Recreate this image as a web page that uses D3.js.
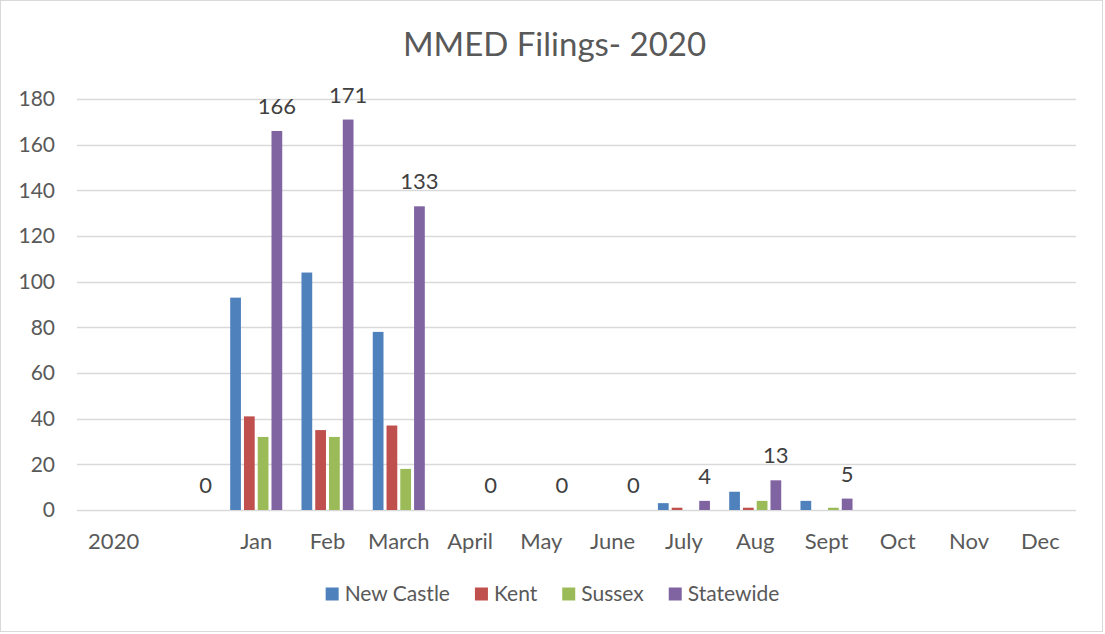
<!DOCTYPE html>
<html>
<head>
<meta charset="utf-8">
<script src="https://cdn.jsdelivr.net/npm/d3@7"></script>
<style>
  body { margin: 0; background: #fff; }
  svg { display: block; font-family: Lato, "Liberation Sans", sans-serif; }
</style>
</head>
<body>
<div class="chart"></div>
<script>
// category labels (second slot is an unlabelled column in the source sheet)
const categories = ["2020", "", "Jan", "Feb", "March", "April", "May", "June", "July", "Aug", "Sept", "Oct", "Nov", "Dec"];
const seriesNames = ["New Castle", "Kent", "Sussex", "Statewide"];
const newCastle = [null, null, 93, 104, 78, null, null, null, 3, 8, 4, null, null, null];
const kent      = [null, null, 41, 35, 37, null, null, null, 1, 1, 0, null, null, null];
const sussex    = [null, null, 32, 32, 18, null, null, null, 0, 4, 1, null, null, null];
const statewide = [null, 0, 166, 171, 133, 0, 0, 0, 4, 13, 5, null, null, null];
const colors = ["#4F81BD", "#C0504D", "#9BBB59", "#8064A2"];
const yTicks = [0, 20, 40, 60, 80, 100, 120, 140, 160, 180];

document.addEventListener("DOMContentLoaded", function () {
  const W = 1105, H = 634;
  const margin = { top: 99, right: 29, bottom: 124, left: 78 };
  const width = W - margin.left - margin.right,
    height = H - margin.top - margin.bottom;

  const svg = d3.select(".chart").append("svg")
    .attr("width", W).attr("height", H);

  svg.append("rect")
    .attr("x", 0.5).attr("y", 0.5)
    .attr("width", W - 3).attr("height", H - 3)
    .attr("fill", "#fff").attr("stroke", "#d9d9d9");

  svg.append("text")
    .attr("x", W / 2 + 2).attr("y", 56)
    .attr("text-anchor", "middle")
    .attr("font-size", 33)
    .attr("fill", "#595959")
    .text("MMED Filings- 2020");

  const g = svg.append("g").attr("transform", `translate(${margin.left},${margin.top})`);

  const x = d3.scaleBand().domain(d3.range(categories.length)).range([0, width]);
  const x1 = d3.scaleBand().domain(d3.range(seriesNames.length))
    .range([x.bandwidth() * 0.135, x.bandwidth() * 0.865]).paddingInner(0.22);
  const y = d3.scaleLinear().domain([0, 180]).range([height, 0]);

  // gridlines
  g.append("g").selectAll("line").data(yTicks).join("line")
    .attr("x1", -1).attr("x2", width)
    .attr("y1", d => Math.round(y(d)) + 0.5).attr("y2", d => Math.round(y(d)) + 0.5)
    .attr("stroke", "#d9d9d9").attr("stroke-width", 1.3);

  // y tick labels
  g.append("g").selectAll("text").data(yTicks).join("text")
    .attr("x", -23).attr("y", d => y(d))
    .attr("dy", "0.35em")
    .attr("text-anchor", "end")
    .attr("font-size", 21)
    .attr("fill", "#595959")
    .text(d => d);

  // x labels
  g.append("g").selectAll("text").data(categories).join("text")
    .attr("x", (d, i) => x(i) + x.bandwidth() / 2)
    .attr("y", height + 39)
    .attr("text-anchor", "middle")
    .attr("font-size", 22)
    .attr("fill", "#595959")
    .text(d => d);

  const series = [newCastle, kent, sussex, statewide];
  series.forEach((vals, s) => {
    const data = vals.map((v, i) => ({ i, v })).filter(d => d.v !== null);
    g.append("g").selectAll("rect").data(data).join("rect")
      .attr("x", d => x(d.i) + x1(s))
      .attr("width", x1.bandwidth())
      .attr("y", d => y(d.v))
      .attr("height", d => height - y(d.v))
      .attr("fill", colors[s]);
  });

  // data labels on Statewide
  const labels = statewide.map((v, i) => ({ i, v })).filter(d => d.v !== null);
  g.append("g").selectAll("text").data(labels).join("text")
    .attr("x", d => x(d.i) + x1(3) + x1.bandwidth() / 2)
    .attr("y", d => y(d.v) - 17)
    .attr("text-anchor", "middle")
    .attr("font-size", 22)
    .attr("fill", "#404040")
    .text(d => d.v);

  // legend
  const legend = svg.append("g");
  const gap = 25, sw = 13;
  let cx = 0;
  seriesNames.forEach((name, s) => {
    const it = legend.append("g");
    it.append("rect").attr("x", 0).attr("y", -6.5).attr("width", sw).attr("height", sw).attr("fill", colors[s]);
    const t = it.append("text").attr("x", sw + 6).attr("y", 0).attr("dy", "0.35em")
      .attr("font-size", 21).attr("fill", "#595959").text(name);
    const w = sw + 6 + t.node().getComputedTextLength();
    it.attr("transform", `translate(${cx},0)`);
    cx += w + gap;
  });
  const total = cx - gap;
  legend.attr("transform", `translate(${(W - total) / 2},594)`);
});
</script>
</body>
</html>
